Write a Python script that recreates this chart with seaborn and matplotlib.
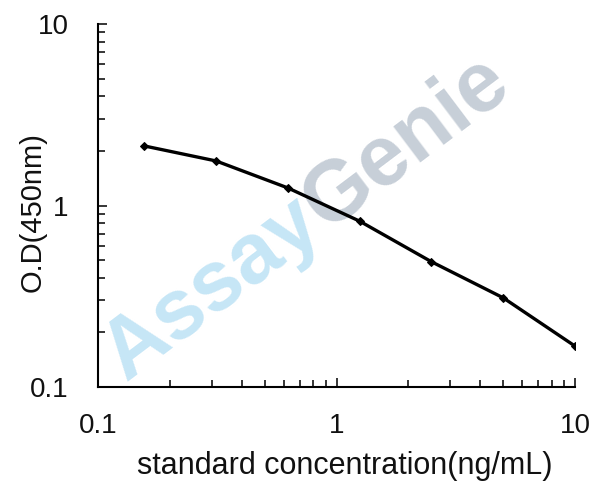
import numpy as np
import pandas as pd
import matplotlib
matplotlib.use("Agg")
import matplotlib.pyplot as plt
import seaborn as sns
from matplotlib.ticker import LogLocator, NullFormatter, FixedLocator, FixedFormatter

# ---- data ----
concentration = [0.156, 0.3125, 0.625, 1.25, 2.5, 5.0, 10.0]
od_450 = [2.13, 1.76, 1.25, 0.82, 0.49, 0.31, 0.168]
x_ticks = [0.1, 1, 10]
x_tick_labels = ["0.1", "1", "10"]
y_ticks = [0.1, 1, 10]
y_tick_labels = ["0.1", "1", "10"]
x_title = "standard concentration(ng/mL)"
y_title = "O.D(450nm)"
watermark_words = ["Assay", "Genie"]

sns.set_theme(style="white")
plt.rcParams['font.family'] = ['Liberation Sans', 'DejaVu Sans']

W, H = 608, 499
fig = plt.figure(figsize=(W / 100, H / 100), dpi=100)
L, R, T, B = 98, 575, 24, 387
ax = fig.add_axes([L / W, 1 - B / H, (R - L) / W, (B - T) / H])

df = pd.DataFrame({"conc": concentration, "od": od_450})
sns.lineplot(data=df, x="conc", y="od", ax=ax, color="black", linewidth=2.4,
             marker="D", markersize=4.5, markeredgecolor="black", zorder=5)

ax.set_xscale("log")
ax.set_yscale("log")
ax.set_xlim(0.1, 10)
ax.set_ylim(0.1, 10)

ax.xaxis.set_major_locator(FixedLocator(x_ticks))
ax.xaxis.set_major_formatter(FixedFormatter(x_tick_labels))
ax.yaxis.set_major_locator(FixedLocator(y_ticks))
ax.yaxis.set_major_formatter(FixedFormatter(y_tick_labels))
ax.xaxis.set_minor_locator(LogLocator(base=10, subs=np.arange(2, 10)))
ax.yaxis.set_minor_locator(LogLocator(base=10, subs=np.arange(2, 10)))
ax.xaxis.set_minor_formatter(NullFormatter())
ax.yaxis.set_minor_formatter(NullFormatter())

for s in ["top", "right"]:
    ax.spines[s].set_visible(False)
for s in ["left", "bottom"]:
    ax.spines[s].set_color("black")
    ax.spines[s].set_linewidth(1.5)

ax.tick_params(axis="both", which="both", bottom=True, left=True, top=False, right=False)
ax.tick_params(axis="x", which="major", direction="in", length=6.5, width=1.1,
               color="black", labelsize=20, pad=18.5, labelcolor="#111111")
ax.tick_params(axis="y", which="major", direction="in", length=6.5, width=1.1,
               color="black", labelsize=20, pad=21, labelcolor="#111111")
ax.tick_params(axis="both", which="minor", direction="in", length=5, width=1.1,
               color="black")

ax.set_xlabel(x_title, fontsize=22, color="#111111")
ax.xaxis.set_label_coords((345 - L) / (R - L), (B - 451) / (B - T))
ax.set_ylabel(y_title, fontsize=21, color="#111111")
ax.yaxis.set_label_coords((47 - L) / (R - L), (B - 212) / (B - T))
ax.grid(False)

# ---- watermark ----
fig.canvas.draw()
renderer = fig.canvas.get_renderer()
angle = 37
fs = 61
colors = ["#c6e6f6", "#c7cfd8"]
x0, y0 = 126, H - 382  # figure pixel coordinates of baseline start
tmp = fig.text(0, 0, watermark_words[0], fontsize=fs, fontweight="bold")
w0 = tmp.get_window_extent(renderer).width
tmp.remove()
rad = np.deg2rad(angle)
starts = [(x0, y0), (x0 + w0 * np.cos(rad), y0 + w0 * np.sin(rad))]
for word, c, (sx, sy) in zip(watermark_words, colors, starts):
    fig.text(sx / W, sy / H, word, fontsize=fs, fontweight="bold", color=c,
             rotation=angle, rotation_mode="anchor", ha="left", va="baseline",
             zorder=1)
ax.set_zorder(2)
ax.patch.set_alpha(0)

fig.savefig("out.png", dpi=100, facecolor="white")
